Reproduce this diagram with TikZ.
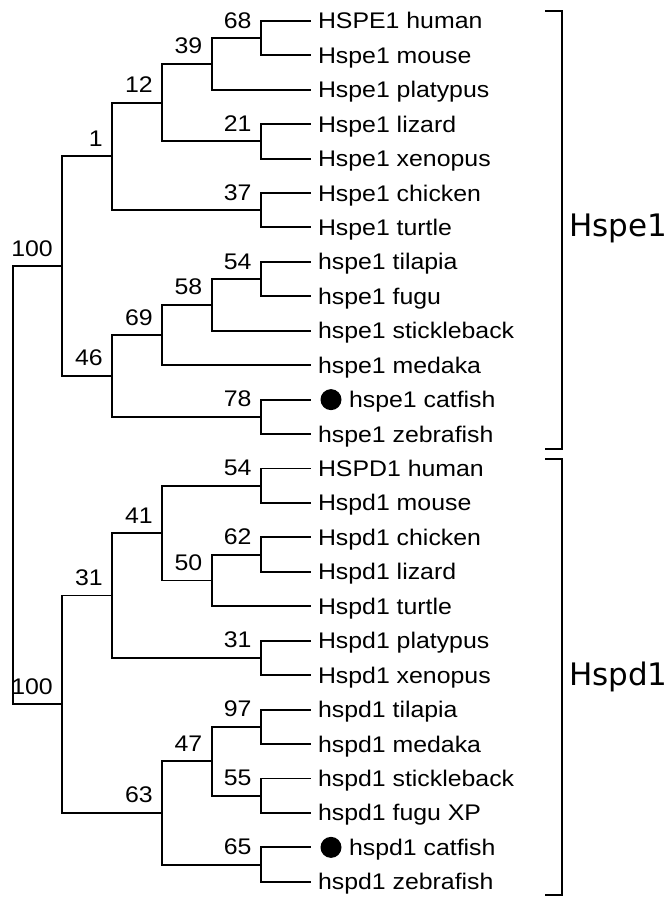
\documentclass[tikz,border=0pt]{standalone}
\usepackage{fontspec}
\setmainfont{Liberation Sans}[FakeStretch=1.1]
\newfontfamily\cladefont{DejaVu Sans}
\begin{document}
% y of a leaf row (fractional rows give the internal nodes)
\newcommand\Y[1]{20.8+34.44*#1}
\begin{tikzpicture}[x=1pt,y=-1pt,
  every node/.style={inner sep=0pt,outer sep=0pt,font=\fontsize{22.6}{26}\selectfont},
  edge/.style={line width=1.9pt,line cap=rect},
  leaf/.style={anchor=base west,yshift=-8pt},
  support/.style={anchor=base east,xshift=-9.5pt,yshift=10pt},
  marker/.style={circle,fill=black,minimum size=21pt},
  clade/.style={anchor=base west,font=\fontsize{31}{36}\selectfont\cladefont},
  bracket/.style={line width=1.8pt}]
\useasboundingbox (0,0) rectangle (668,897);

% branch depths
\def\La{12.7}\def\Lb{62.3}\def\Lc{112.3}\def\Ld{162.3}\def\Le{211.7}\def\Lf{261}\def\Tip{310}

% leaf tips and their names
\foreach \i/\name in {0/HSPE1 human,1/Hspe1 mouse,2/Hspe1 platypus,3/Hspe1 lizard,
  4/Hspe1 xenopus,5/Hspe1 chicken,6/Hspe1 turtle,7/hspe1 tilapia,8/hspe1 fugu,
  9/hspe1 stickleback,10/hspe1 medaka,12/hspe1 zebrafish,
  13/HSPD1 human,14/Hspd1 mouse,15/Hspd1 chicken,16/Hspd1 lizard,17/Hspd1 turtle,
  18/Hspd1 platypus,19/Hspd1 xenopus,20/hspd1 tilapia,21/hspd1 medaka,
  22/hspd1 stickleback,23/hspd1 fugu XP,25/hspd1 zebrafish}{
  \coordinate (t\i) at (\Tip,\Y{\i});
  \node[leaf] (n\i) at (318,\Y{\i}) {\name};
}
% the two catfish leaves carry a dot
\foreach \i/\name in {11/hspe1 catfish,24/hspd1 catfish}{
  \coordinate (t\i) at (\Tip,\Y{\i});
  \node[marker] (d\i) at (331,\Y{\i}) {};
  \node[leaf] (n\i) at (349,\Y{\i}) {\name};
}

% internal nodes, Hspe1 clade
\coordinate (a68)  at (\Lf,\Y{0.5});
\coordinate (a39)  at (\Le,\Y{1.25});
\coordinate (a21)  at (\Lf,\Y{3.5});
\coordinate (a12)  at (\Ld,\Y{2.375});
\coordinate (a37)  at (\Lf,\Y{5.5});
\coordinate (a1)   at (\Lc,\Y{3.9375});
\coordinate (a54)  at (\Lf,\Y{7.5});
\coordinate (a58)  at (\Le,\Y{8.25});
\coordinate (a69)  at (\Ld,\Y{9.125});
\coordinate (a78)  at (\Lf,\Y{11.5});
\coordinate (a46)  at (\Lc,\Y{10.3125});
\coordinate (a100) at (\Lb,\Y{7.125});
% internal nodes, Hspd1 clade
\coordinate (b54)  at (\Lf,\Y{13.5});
\coordinate (b62)  at (\Lf,\Y{15.5});
\coordinate (b50)  at (\Le,\Y{16.25});
\coordinate (b41)  at (\Ld,\Y{14.875});
\coordinate (b31x) at (\Lf,\Y{18.5});
\coordinate (b31)  at (\Lc,\Y{16.6875});
\coordinate (b97)  at (\Lf,\Y{20.5});
\coordinate (b55)  at (\Lf,\Y{22.5});
\coordinate (b47)  at (\Le,\Y{21.5});
\coordinate (b65)  at (\Lf,\Y{24.5});
\coordinate (b63)  at (\Ld,\Y{23});
\coordinate (b100) at (\Lb,\Y{19.84375});
\coordinate (root) at (\La,\Y{13.484375});

% rectangular branches
\foreach \p/\c in {a68/t0,a68/t1,a39/a68,a39/t2,a21/t3,a21/t4,a12/a39,a12/a21,
  a37/t5,a37/t6,a1/a12,a1/a37,a54/t7,a54/t8,a58/a54,a58/t9,a69/a58,a69/t10,
  a78/t11,a78/t12,a46/a69,a46/a78,a100/a1,a100/a46,
  b54/t13,b54/t14,b62/t15,b62/t16,b50/b62,b50/t17,b41/b54,b41/b50,
  b31x/t18,b31x/t19,b31/b41,b31/b31x,b97/t20,b97/t21,b55/t22,b55/t23,
  b47/b97,b47/b55,b65/t24,b65/t25,b63/b47,b63/b65,b100/b31,b100/b63,
  root/a100,root/b100}
  \draw[edge] (\p) |- (\c);

% bootstrap support values
\foreach \n/\v in {a68/68,a39/39,a21/21,a12/12,a37/37,a1/1,a54/54,a58/58,a69/69,
  a78/78,a46/46,a100/100,b54/54,b62/62,b50/50,b41/41,b31x/31,b31/31,b97/97,
  b55/55,b47/47,b65/65,b63/63,b100/100}
  \node[support] at (\n) {\v};

% clade brackets
\coordinate (ea) at (545,10.7);  \coordinate (eb) at (545,449.3);
\coordinate (da) at (545,458.7); \coordinate (db) at (545,895);
\draw[bracket] (ea) -- ++(17.3,0) |- (eb);
\draw[bracket] (da) -- ++(17.3,0) |- (db);
\node[clade] (hspe) at (569,236.5) {Hspe1};
\node[clade] (hspd) at (569,685) {Hspd1};
\end{tikzpicture}
\end{document}
